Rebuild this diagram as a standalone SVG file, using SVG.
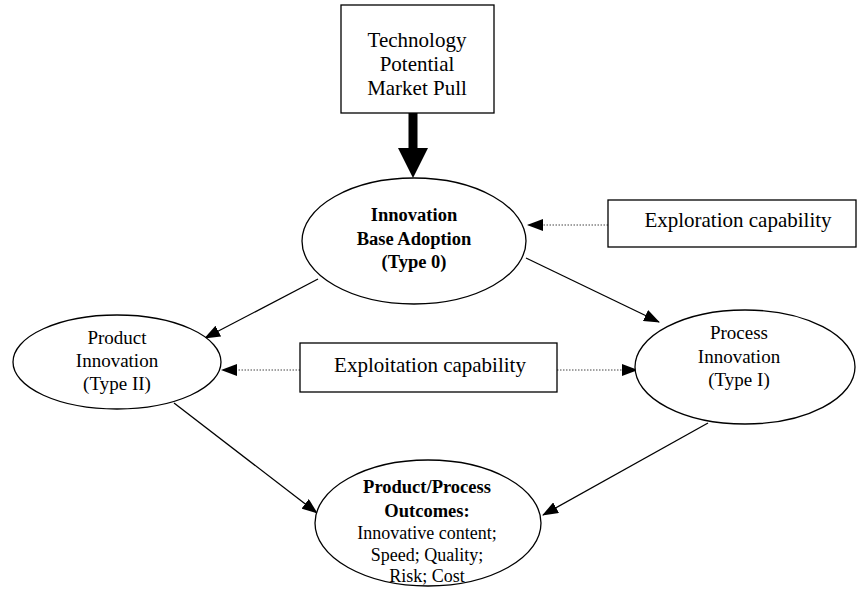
<svg xmlns="http://www.w3.org/2000/svg" width="857" height="589" viewBox="0 0 857 589">
<style>
.shape{fill:#fff;stroke:#000;stroke-width:1.3}
.t{font-family:"Liberation Serif","Times New Roman",serif;fill:#000;text-anchor:middle}
.r21{font-size:21px}
.r19{font-size:19px}
.r18{font-size:18px}
.b18{font-size:18.5px;font-weight:bold}
.line{stroke:#000;stroke-width:1.3;fill:none}
.dot{stroke:#444;stroke-width:1;stroke-dasharray:1.5 1.5;fill:none}
</style>
<defs>
<marker id="ah" markerWidth="16" markerHeight="12" refX="15" refY="6" orient="auto" markerUnits="userSpaceOnUse">
<path d="M0,0 L16,6 L0,12 Z" fill="#000"/>
</marker>
</defs>
<rect width="857" height="589" fill="#fff"/>
<g id="connectors">
<rect x="408.5" y="113" width="9" height="36" fill="#000"/>
<path d="M398,148 L428,148 L413,178 Z" fill="#000"/>
<line class="line" x1="318" y1="279" x2="205" y2="338" marker-end="url(#ah)"/>
<line class="line" x1="526" y1="258" x2="659" y2="322" marker-end="url(#ah)"/>
<line class="line" x1="174" y1="403" x2="317" y2="513" marker-end="url(#ah)"/>
<line class="line" x1="708" y1="423" x2="543" y2="515" marker-end="url(#ah)"/>
<line class="dot" x1="608" y1="225" x2="528" y2="225" marker-end="url(#ah)"/>
<line class="dot" x1="300" y1="370" x2="222" y2="370" marker-end="url(#ah)"/>
<line class="dot" x1="557" y1="370" x2="637" y2="370" marker-end="url(#ah)"/>
</g>
<g id="tech">
<rect class="shape" x="341" y="5" width="153" height="108"/>
<text class="t r21" x="417" y="47">Technology</text>
<text class="t r21" x="417" y="71">Potential</text>
<text class="t r21" x="417" y="95">Market Pull</text>
</g>
<g id="base">
<ellipse class="shape" cx="414" cy="241" rx="112" ry="63"/>
<text class="t b18" x="414" y="221">Innovation</text>
<text class="t b18" x="414" y="245">Base Adoption</text>
<text class="t b18" x="414" y="268">(Type 0)</text>
</g>
<g id="exploration">
<rect class="shape" x="608" y="200" width="248" height="47"/>
<text class="t r21" x="738" y="227">Exploration capability</text>
</g>
<g id="product">
<ellipse class="shape" cx="117" cy="362" rx="104" ry="47"/>
<text class="t r19" x="117" y="344">Product</text>
<text class="t r19" x="117" y="367">Innovation</text>
<text class="t r19" x="117" y="390">(Type II)</text>
</g>
<g id="exploitation">
<rect class="shape" x="300" y="343" width="257" height="49"/>
<text class="t r21" x="430" y="372">Exploitation capability</text>
</g>
<g id="process">
<ellipse class="shape" cx="745" cy="367" rx="110" ry="57"/>
<text class="t r19" x="739" y="339">Process</text>
<text class="t r19" x="739" y="363">Innovation</text>
<text class="t r19" x="739" y="386">(Type I)</text>
</g>
<g id="outcomes">
<ellipse class="shape" cx="428" cy="523" rx="113" ry="63"/>
<text class="t b18" x="427" y="493">Product/Process</text>
<text class="t b18" x="427" y="517">Outcomes:</text>
<text class="t r18" x="427" y="539">Innovative content;</text>
<text class="t r18" x="427" y="561">Speed; Quality;</text>
<text class="t r18" x="427" y="582">Risk; Cost</text>
</g>
</svg>
